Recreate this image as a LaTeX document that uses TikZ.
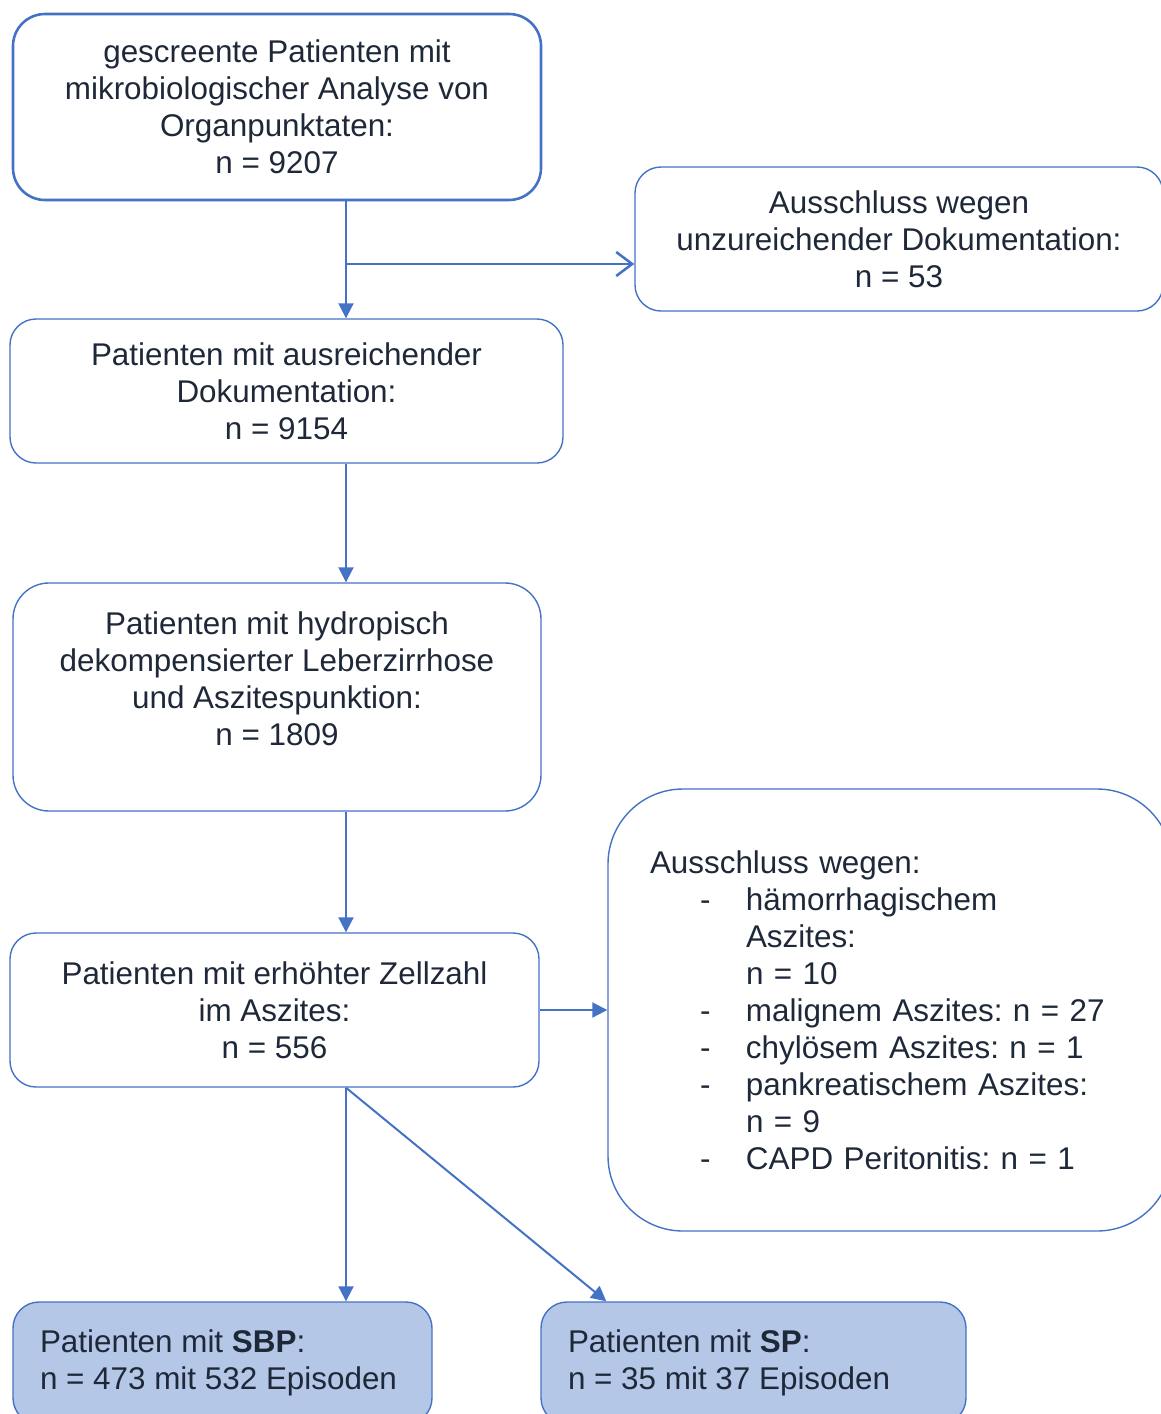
\documentclass[tikz,border=0pt]{standalone}
\usepackage{fontspec}
\setmainfont{Liberation Sans}
\usetikzlibrary{arrows.meta,calc}

\definecolor{lineblue}{HTML}{4472C4}
\definecolor{boxfill}{HTML}{B4C7E7}
\definecolor{textdark}{HTML}{1E2838}

\newcommand{\bitem}[1]{\hspace*{50pt}\makebox[46pt][l]{-}#1}
\newcommand{\bcont}[1]{\hspace*{96pt}#1}
\frenchspacing

\begin{document}
\begin{tikzpicture}
			[x=1pt,y=-1pt,
			 every node/.style={font=\fontsize{31.4}{37}\selectfont,text=textdark},
			 box/.style={draw=lineblue,line width=1.4pt,rounded corners=26pt,align=center},
			 listbox/.style={box,align=left,inner ysep=0pt},
			 resultbox/.style={box,fill=boxfill,align=flush left,inner ysep=0pt,inner xsep=27pt},
			 flow/.style={draw=lineblue,line width=2pt,-{Triangle[length=15pt,width=15pt]}}]
			\clip (0,0) rectangle (1161,1414);
			\coordinate (spine) at (346,0);
			\coordinate (branch) at (346,264);
			
			\node[box,line width=2.6pt,rounded corners=32pt,minimum width=528pt,minimum height=186pt] (b1) at (277,107)
				{gescreente Patienten mit\\mikrobiologischer Analyse von\\Organpunktaten:\\n = 9207};
			\node[box,minimum width=528pt,minimum height=144pt] (b2) at (899,239)
				{Ausschluss wegen\\unzureichender Dokumentation:\\n = 53};
			\node[box,minimum width=553pt,minimum height=144pt] (b3) at (286.5,391)
				{Patienten mit ausreichender\\Dokumentation:\\n = 9154};
			\node[box,rounded corners=36pt,minimum width=528pt,minimum height=228pt] (b4) at (277,697)
				{Patienten mit hydropisch\\dekompensierter Leberzirrhose\\und Aszitespunktion:\\n = 1809\\ \mbox{}};
			\node[listbox,rounded corners=75pt,text width=480pt,inner xsep=42pt,minimum height=442pt] (b5) at (890,1010)
				{Ausschluss wegen:\\
				 \bitem{hämorrhagischem}\\
				 \bcont{Aszites:}\\
				 \bcont{n = 10}\\
				 \bitem{malignem Aszites: n = 27}\\
				 \bitem{chylösem Aszites: n = 1}\\
				 \bitem{pankreatischem Aszites:}\\
				 \bcont{n = 9}\\
				 \bitem{CAPD Peritonitis: n = 1}};
			\node[box,minimum width=529pt,minimum height=154pt] (b6) at (274.5,1010)
				{Patienten mit erhöhter Zellzahl\\im Aszites:\\n = 556};
			\node[resultbox,text width=365pt,minimum height=122pt] (b7) at (222.5,1363)
				{\mbox{Patienten mit \textbf{SBP}:}\\\mbox{n = 473 mit 532 Episoden}};
			\node[resultbox,text width=371pt,minimum height=122pt] (b8) at (753.5,1363)
				{\mbox{Patienten mit \textbf{SP}:}\\\mbox{n = 35 mit 37 Episoden}};
			
			\foreach \from/\to in {b1/b3,b3/b4,b4/b6,b6/b7}
			\draw[flow] (\from.south -| spine) -- (\to.north -| spine);
			\draw[flow,-{Straight Barb[length=16pt,width=24pt,line width=2.5pt]}] (branch) -- (branch -| b2.west);
			\draw[flow] (b6.east) -- (b5.west);
			\draw[flow] (b6.south -| spine) -- ($(b8.north west)+(66,0)$);
			\end{tikzpicture}
\end{document}
